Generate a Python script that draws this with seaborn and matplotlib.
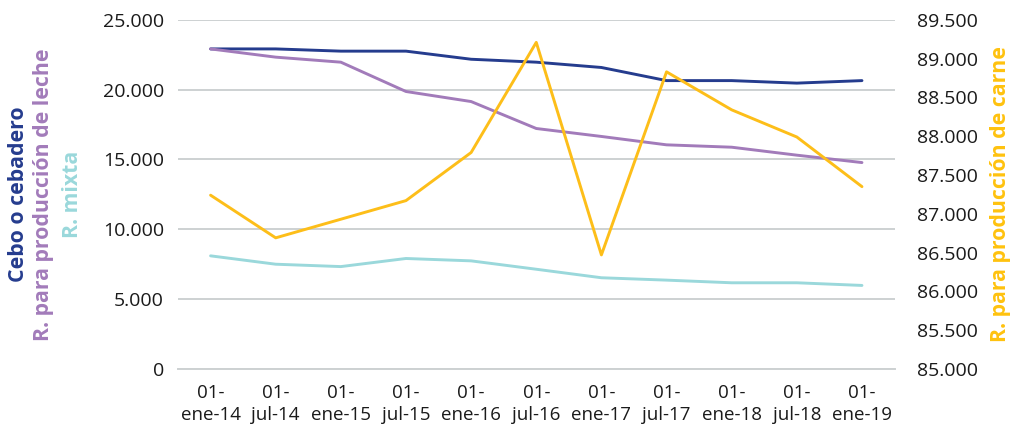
import pandas as pd
import matplotlib.pyplot as plt
import matplotlib.ticker as mticker
import seaborn as sns

# Fechas (eje x)
fechas = ["01-\nene-14", "01-\njul-14", "01-\nene-15", "01-\njul-15", "01-\nene-16",
          "01-\njul-16", "01-\nene-17", "01-\njul-17", "01-\nene-18", "01-\njul-18",
          "01-\nene-19"]

# Eje izquierdo
cebo = [22920, 22920, 22760, 22760, 22180, 21970, 21590, 20650, 20650, 20470, 20650]
leche = [22920, 22330, 21970, 19870, 19150, 17220, 16650, 16050, 15880, 15310, 14780]
mixta = [8100, 7500, 7330, 7910, 7740, 7140, 6530, 6360, 6170, 6170, 5980]

# Eje derecho
carne = [87240, 86690, 86930, 87170, 87790, 89210, 86470, 88830, 88340, 87990, 87350]

series_izq = ["Cebo o cebadero", "R. para producción de leche", "R. mixta"]
colores = {"Cebo o cebadero": "#253C8E",
           "R. para producción de leche": "#A27BBA",
           "R. mixta": "#9AD8DB"}
color_carne = "#FDBE19"

sns.set_style("white")
plt.rcParams['font.family'] = ['Open Sans', 'DejaVu Sans']

df = pd.DataFrame({
    "fecha": fechas * 3,
    "valor": cebo + leche + mixta,
    "serie": [series_izq[0]] * len(fechas) + [series_izq[1]] * len(fechas) + [series_izq[2]] * len(fechas),
})

fig = plt.figure(figsize=(10.2, 4.32), dpi=100)
ax = fig.add_axes([0.1745, 0.146, 0.7025, 0.808])

sns.lineplot(data=df, x="fecha", y="valor", hue="serie", hue_order=series_izq,
             palette=colores, linewidth=2.1, legend=False, sort=False, ax=ax)

ax2 = ax.twinx()
sns.lineplot(x=fechas, y=carne, color=color_carne, linewidth=2.1, sort=False, ax=ax2)

# Eje izquierdo
ax.set_ylim(0, 25000)
ax.set_yticks(range(0, 25001, 5000))
fmt = mticker.FuncFormatter(lambda v, p: f"{int(v):,}".replace(",", "."))
ax.yaxis.set_major_formatter(fmt)
ax.grid(axis="y", color="#CDD1D2", linewidth=1.4)
ax.set_axisbelow(True)
ax.set_xlim(-0.5, len(fechas) - 0.5)

# Eje derecho
ax2.set_ylim(85000, 89500)
ax2.set_yticks(range(85000, 89501, 500))
ax2.yaxis.set_major_formatter(fmt)
ax2.grid(False)

for a in (ax, ax2):
    for s in ("top", "left", "right", "bottom"):
        a.spines[s].set_visible(False)
    a.set_xlabel("")
    a.set_ylabel("")

ax.spines["bottom"].set_visible(True)
ax.spines["bottom"].set_color("#CDD1D2")
ax.spines["bottom"].set_linewidth(1.4)

ax.tick_params(axis="y", length=0, pad=10, labelsize=14, labelcolor="#1a1a1a")
ax2.tick_params(axis="y", length=0, pad=16, labelsize=14, labelcolor="#1a1a1a")

ax.set_xticks(range(len(fechas)))
ax.set_xticklabels(fechas, fontsize=13.5, color="#1a1a1a", linespacing=1.25)
ax.set_xticks([i - 0.5 for i in range(len(fechas) + 1)], minor=True)
ax.tick_params(axis="x", which="major", length=0, pad=11)
ax.tick_params(axis="x", which="minor", length=5, color="#CDD1D2", width=1.2)

# Títulos de los ejes
cy = 0.146 + 0.808 / 2
fig.text(0.018, cy, "Cebo o cebadero", rotation=90, ha="center", va="center",
         color="#253C8E", fontsize=15.3, fontweight="bold")
fig.text(0.043, cy, "R. para producción de leche", rotation=90, ha="center", va="center",
         color="#A27BBA", fontsize=15.3, fontweight="bold")
fig.text(0.071, cy, "R. mixta", rotation=90, ha="center", va="center",
         color="#9AD8DB", fontsize=15.3, fontweight="bold")
fig.text(0.981, cy, "R. para producción de carne", rotation=90, ha="center", va="center",
         color="#FFC20E", fontsize=15.3, fontweight="bold")

fig.savefig("out.png", dpi=100)
